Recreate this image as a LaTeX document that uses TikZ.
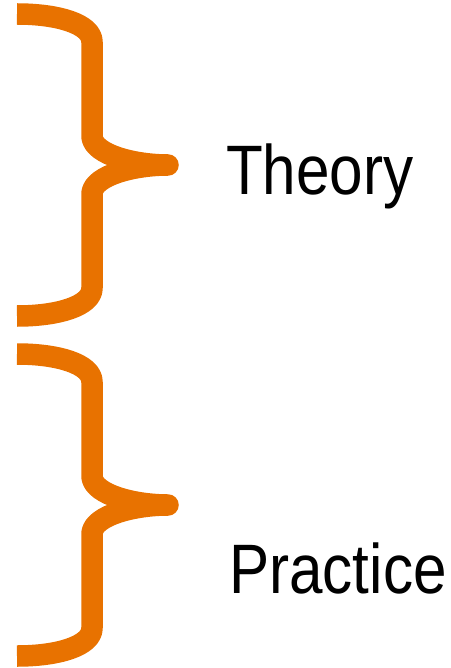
\documentclass[tikz,border=0pt]{standalone}
\usepackage{fontspec}
\setmainfont{Liberation Sans}
\definecolor{braceorange}{RGB}{232,114,0}
\begin{document}
\begin{tikzpicture}[x=1pt, y=-1pt, font=\fontsize{70}{70}\selectfont]
    % Two braces, one label each
    \tikzset{bracestroke/.style={draw=braceorange, line width=21.5pt, line join=round, line cap=butt}, bracelabel/.style={anchor=base west, inner sep=0pt, xscale=0.86}}
    \useasboundingbox (0,0) rectangle (450,668);
    \begin{scope}[shift={(0,0)}]
        \draw[bracestroke] (17,14) .. controls (58,14) and (92,24) .. (92,42) -- (92,137) .. controls (94,155) and (135,165) .. (168,165) .. controls (135,165) and (94,175) .. (92,193) -- (92,288) .. controls (92,306) and (58,316) .. (17,316);
    \end{scope}
    \begin{scope}[shift={(0,340)}]
        \draw[bracestroke] (17,14) .. controls (58,14) and (92,24) .. (92,42) -- (92,137) .. controls (94,155) and (135,165) .. (168,165) .. controls (135,165) and (94,175) .. (92,193) -- (92,288) .. controls (92,306) and (58,316) .. (17,316);
    \end{scope}
    \node[bracelabel] (theory) at (226,195) {Theory};
    \node[bracelabel] (practice) at (229,593) {Practice};
\end{tikzpicture}
\end{document}
